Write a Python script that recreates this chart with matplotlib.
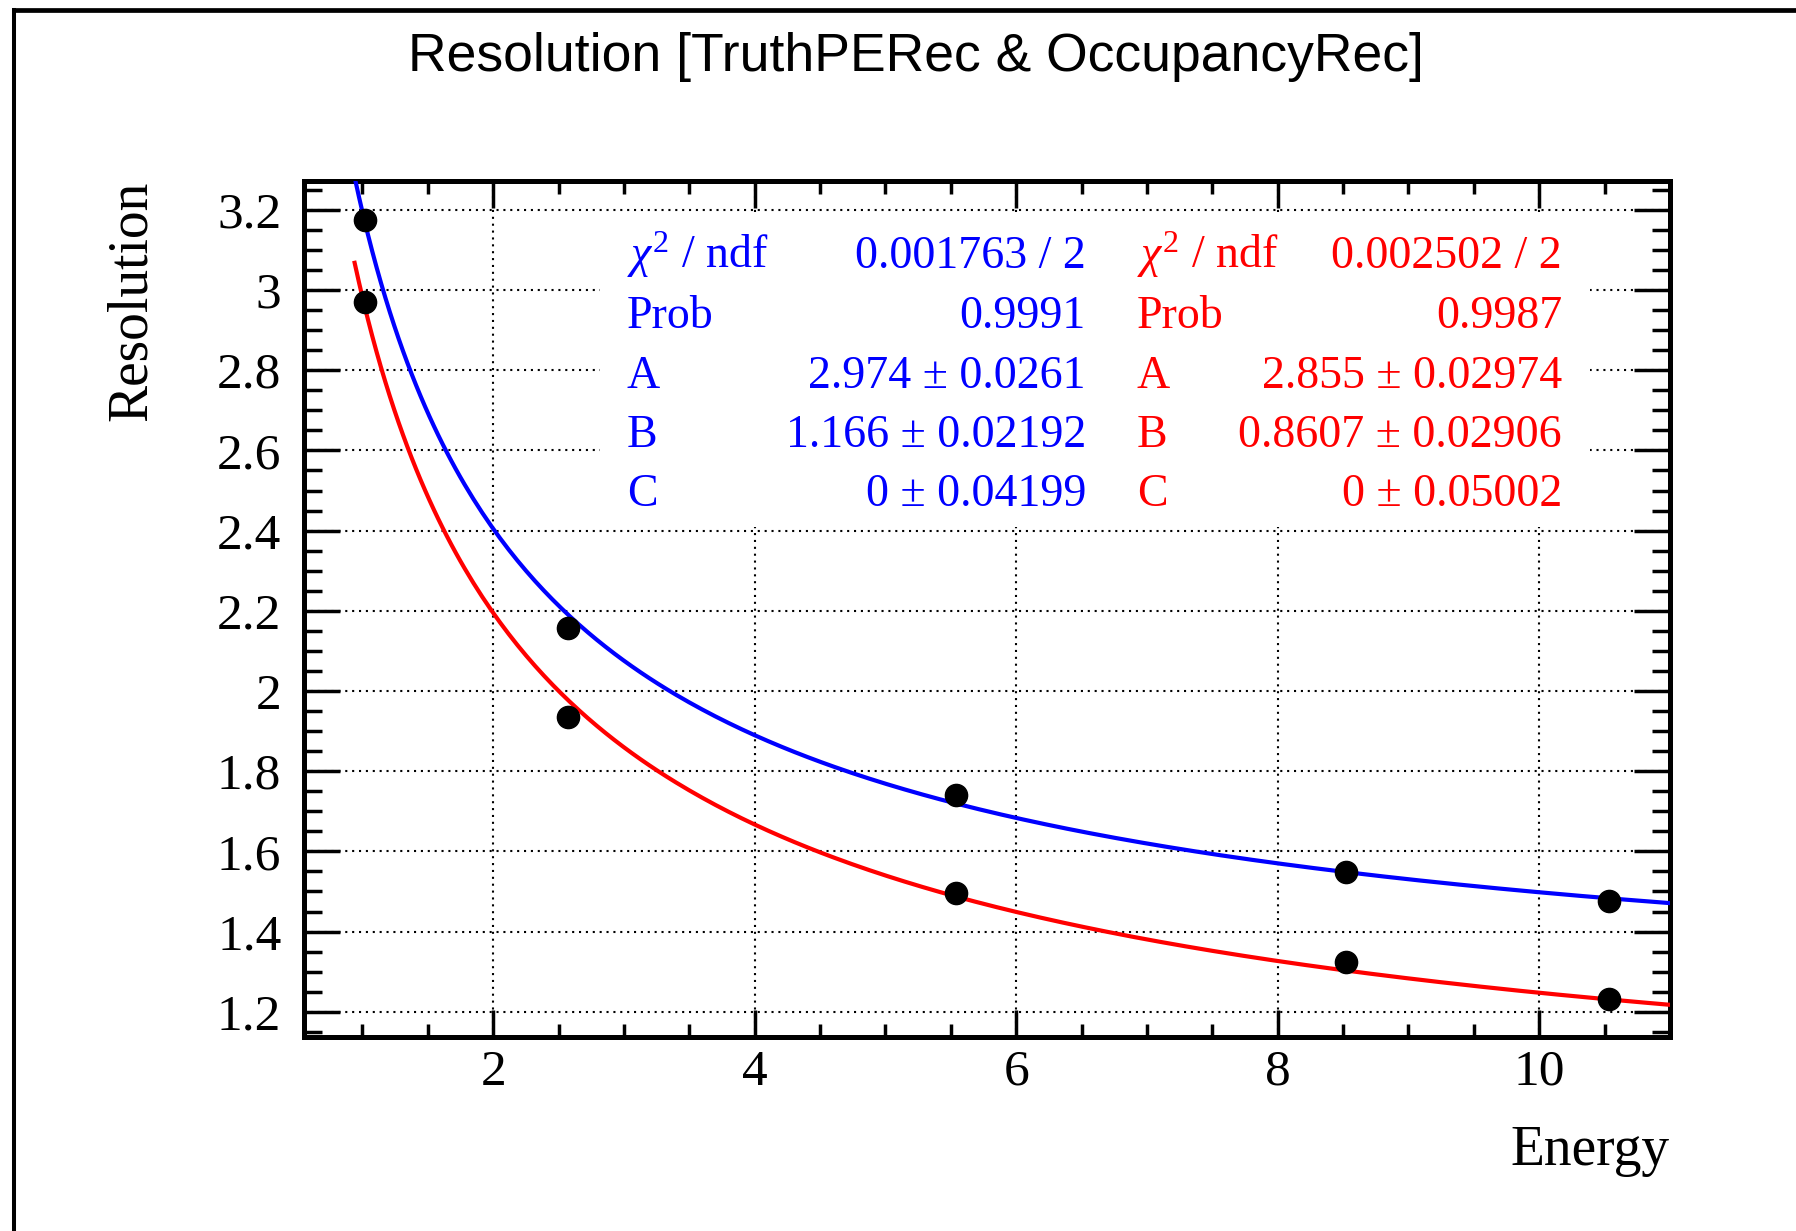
import numpy as np
import matplotlib
matplotlib.use("Agg")
import matplotlib.pyplot as plt
from matplotlib.lines import Line2D
from matplotlib.patches import Rectangle
from matplotlib.ticker import MultipleLocator

# ---------------- data ----------------
energy = [1.02, 2.57, 5.54, 8.52, 10.53]
res_truthpe = [3.175, 2.157, 1.741, 1.549, 1.475]     # upper series (blue fit)
res_occupancy = [2.969, 1.935, 1.495, 1.323, 1.232]   # lower series (red fit)

# fit parameters:  sigma(E) = sqrt(A^2/E + B^2 + C^2/E^2)
fit_blue = dict(A=2.974, B=1.166, C=0.0)
fit_red = dict(A=2.855, B=0.8607, C=0.0)
fit_range = [0.94, 11.0]

stats_labels = [r"$\chi^{2}$ / ndf", "Prob", "A", "B", "C"]
stats_blue = ["0.001763 / 2", "0.9991", "2.974 ± 0.0261", "1.166 ± 0.02192", "0 ± 0.04199"]
stats_red = ["0.002502 / 2", "0.9987", "2.855 ± 0.02974", "0.8607 ± 0.02906", "0 ± 0.05002"]

xticks = [2, 4, 6, 8, 10]
yticks = [1.2, 1.4, 1.6, 1.8, 2.0, 2.2, 2.4, 2.6, 2.8, 3.0, 3.2]
ytick_labels = ["1.2", "1.4", "1.6", "1.8", "2", "2.2", "2.4", "2.6", "2.8", "3", "3.2"]

title = "Resolution [TruthPERec & OccupancyRec]"
xlabel = "Energy"
ylabel = "Resolution"

# ---------------- style ----------------
plt.rcParams["font.family"] = ["Liberation Serif", "DejaVu Serif"]
plt.rcParams["mathtext.fontset"] = "custom"
plt.rcParams["mathtext.rm"] = "Liberation Serif"
plt.rcParams["mathtext.it"] = "Liberation Serif:italic"
plt.rcParams["mathtext.bf"] = "Liberation Serif:bold"

W, H = 1796, 1231
fig = plt.figure(figsize=(W / 100, H / 100), dpi=100)

L, R, T, B = 303.5, 1670.0, 181.0, 1036.6
ax = fig.add_axes([L / W, 1 - B / H, (R - L) / W, (B - T) / H])
ax.set_xlim(0.549, 11.0)
ax.set_ylim(1.138, 3.272)
ax.set_axisbelow(True)

# canvas border (left + top)
fig.add_artist(Line2D([13.5 / W, 13.5 / W], [0, 1 - 10 / H], transform=fig.transFigure,
                      color="black", lw=2.9, solid_capstyle="projecting"))
fig.add_artist(Line2D([13.5 / W, 1], [1 - 10 / H, 1 - 10 / H], transform=fig.transFigure,
                      color="black", lw=3.4, solid_capstyle="projecting"))

# fit curves
def model(E, p):
    E = np.asarray(E, dtype=float)
    return np.sqrt(p["A"] ** 2 / E + p["B"] ** 2 + p["C"] ** 2 / E ** 2)

Ef = np.linspace(fit_range[0], fit_range[1], 300)
ax.plot(Ef, model(Ef, fit_blue), color="#0000ff", lw=3.0, zorder=3)
ax.plot(Ef, model(Ef, fit_red), color="#ff0000", lw=3.0, zorder=3)

# data points
ax.plot(energy, res_truthpe, "o", color="black", ms=16, zorder=4, clip_on=False)
ax.plot(energy, res_occupancy, "o", color="black", ms=16, zorder=4, clip_on=False)

# ticks
ax.set_xticks(xticks)
ax.set_xticklabels([str(v) for v in xticks])
ax.set_yticks(yticks)
ax.set_yticklabels(ytick_labels)
ax.xaxis.set_minor_locator(MultipleLocator(0.5))
ax.yaxis.set_minor_locator(MultipleLocator(0.05))
ax.tick_params(axis="both", which="both", direction="in", top=True, right=True,
               width=2.5, colors="black", labelsize=37)
ax.tick_params(axis="y", which="major", length=26, pad=16)
ax.tick_params(axis="y", which="minor", length=13)
ax.tick_params(axis="x", which="major", length=19.5, pad=9)
ax.tick_params(axis="x", which="minor", length=9.5)
for s in ax.spines.values():
    s.set_linewidth(3.6)

ax.grid(True, which="major", color="black", linestyle=(0, (1, 2.3)), linewidth=1.5)

# stats boxes (white, no border)
ax.add_patch(Rectangle((0.217, 0.5957), 0.3732, 0.3681, transform=ax.transAxes,
                       facecolor="white", edgecolor="none", zorder=1))
ax.add_patch(Rectangle((0.5902, 0.5957), 0.3513, 0.3681, transform=ax.transAxes,
                       facecolor="white", edgecolor="none", zorder=1))

rows_y = [0.8983, 0.8282, 0.758, 0.689, 0.620]
for lab, vb, vr, yy in zip(stats_labels, stats_blue, stats_red, rows_y):
    ax.text(0.2367, yy, lab, transform=ax.transAxes, color="#0000ff", fontsize=33,
            ha="left", va="baseline", zorder=5)
    ax.text(0.5726, yy, vb, transform=ax.transAxes, color="#0000ff", fontsize=33,
            ha="right", va="baseline", zorder=5)
    ax.text(0.6099, yy, lab, transform=ax.transAxes, color="#ff0000", fontsize=33,
            ha="left", va="baseline", zorder=5)
    ax.text(0.9210, yy, vr, transform=ax.transAxes, color="#ff0000", fontsize=33,
            ha="right", va="baseline", zorder=5)

# axis labels
ax.set_xlabel(xlabel, fontsize=40)
ax.xaxis.set_label_coords(1.0, -(1151 - B) / (B - T))
ax.xaxis.label.set_ha("right")
ax.xaxis.label.set_va("center")

ax.set_ylabel(ylabel, fontsize=40)
ax.yaxis.set_label_coords(-(L - 132) / (R - L), 1.0)
ax.yaxis.label.set_ha("right")
ax.yaxis.label.set_va("center")

# title
fig.text(916 / W, 1 - 71 / H, title, ha="center", va="baseline", fontsize=38.5,
         family=["Liberation Sans", "DejaVu Sans"])

fig.savefig("out.png", dpi=100, facecolor="white")
